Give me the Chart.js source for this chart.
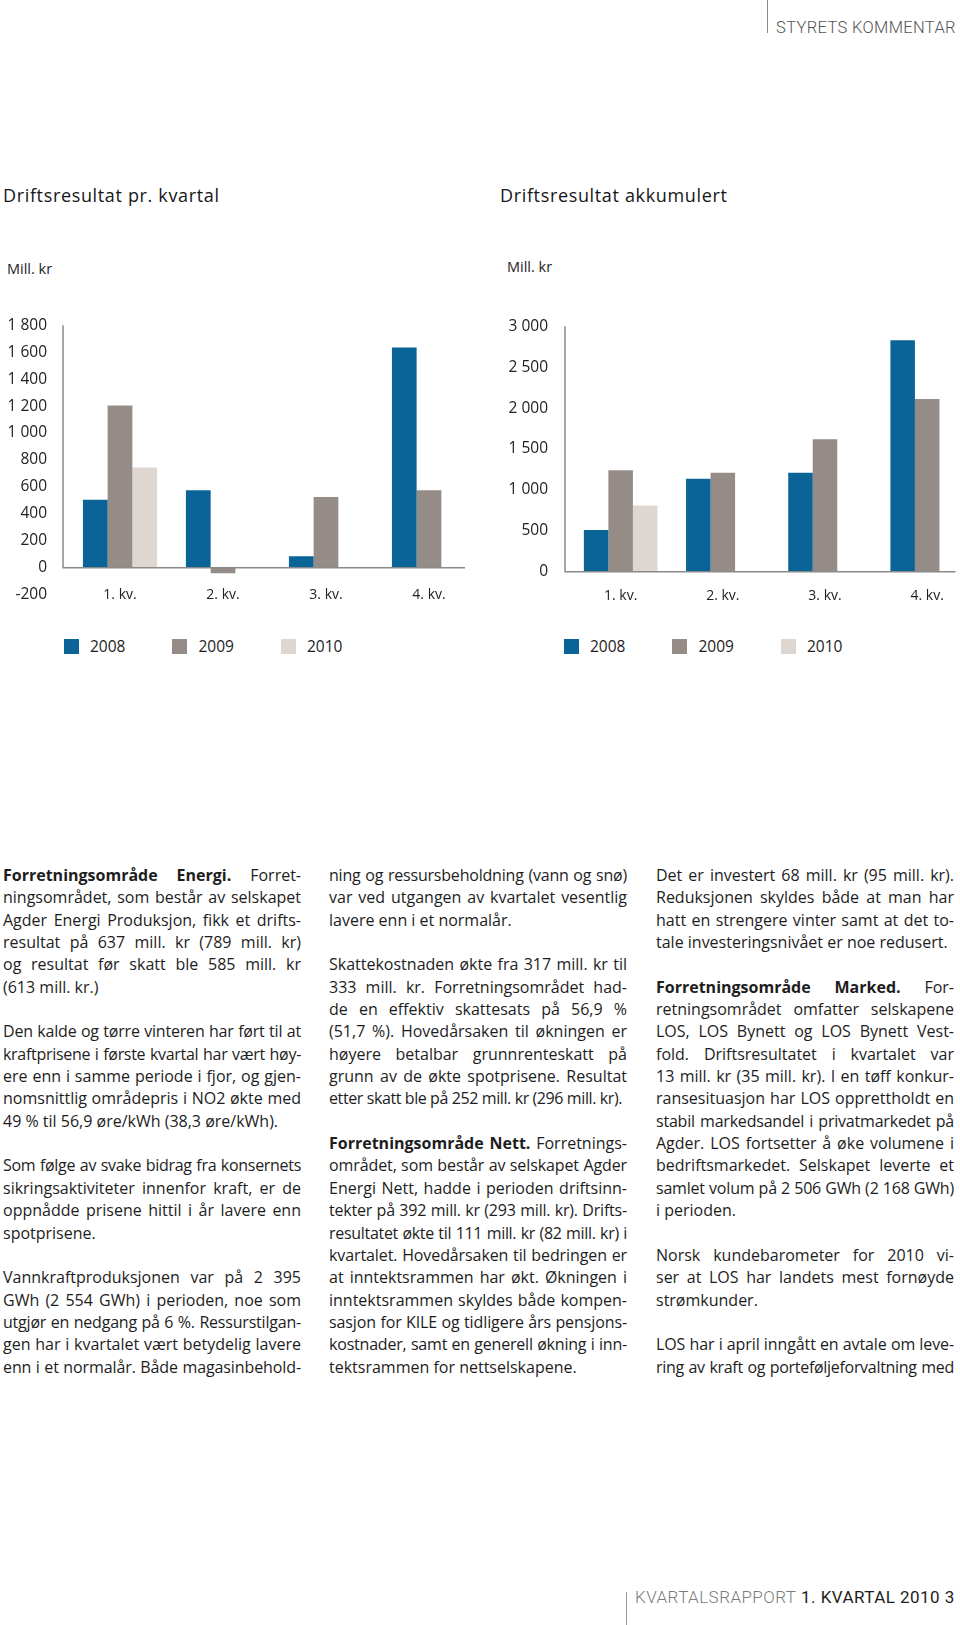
<!DOCTYPE html>
<html lang="no">
<head>
<meta charset="utf-8">
<title>Driftsresultat pr. kvartal og akkumulert</title>
<script src="https://cdn.jsdelivr.net/npm/chart.js@4/dist/chart.umd.min.js"></script>
<style>
  html, body { margin: 0; padding: 0; }
  body {
    width: 960px; height: 1625px; position: relative; overflow: hidden;
    background: #fff; color: #1d1d1d; font-family: "Open Sans", Roboto, sans-serif;
  }
  .abs { position: absolute; white-space: nowrap; }
  .pagehead { left: 767px; top: 0; height: 33px; border-left: 1.5px solid #8a8a8a; }
  .pagehead span { position: absolute; left: 8px; top: 18px; font-family: Roboto, sans-serif; font-size: 16.5px; font-weight: 300; color: #555; letter-spacing: 0.35px; }
  .title { font-size: 18px; line-height: 22px; letter-spacing: 0.65px; color: #161616; }
  .unit { font-size: 14.5px; line-height: 18px; color: #1d1d1d; }
  .chartbox { position: absolute; top: 300px; width: 480px; height: 320px; }
  .legend { position: absolute; top: 637px; display: flex; font-size: 15.5px; line-height: 18px; }
  .legend .item { display: flex; align-items: center; margin-right: 47px; }
  .legend .sw { width: 15px; height: 15px; margin-right: 11px; }
  .col { position: absolute; top: 864px; width: 298px; font-size: 16px; line-height: 22.35px; }
  .col .l { text-align: justify; text-align-last: justify; height: 22.35px; }
  .col .e { text-align-last: left; }
  .col .gap { height: 22.35px; }
  .col b { font-weight: 700; }
  .foot { left: 626px; top: 1592px; height: 40px; border-left: 1.5px solid #9a9a9a; }
  .foot span { position: absolute; left: 8px; top: -5px; font-family: Roboto, sans-serif; font-size: 17px; letter-spacing: 0.45px; }
</style>
</head>
<body>

<div class="abs pagehead"><span>STYRETS KOMMENTAR</span></div>

<div class="abs title" style="left:3px; top:184px;">Driftsresultat pr. kvartal</div>
<div class="abs title" style="left:500px; top:184px;">Driftsresultat akkumulert</div>
<div class="abs unit" style="left:7px; top:260px;">Mill. kr</div>
<div class="abs unit" style="left:507px; top:258px;">Mill. kr</div>

<div class="chartbox" style="left:0;"><canvas id="quarterChart" width="480" height="320"></canvas></div>
<div class="chartbox" style="left:480px;"><canvas id="accumChart" width="480" height="320"></canvas></div>
<div class="legend" id="legendQuarter" style="left:64px;"></div>
<div class="legend" id="legendAccum" style="left:564px;"></div>

<div class="col" style="left:3px;">
  <div class="l"><b>Forretningsområde Energi.</b> Forret-</div>
  <div class="l">ningsområdet, som består av selskapet</div>
  <div class="l">Agder Energi Produksjon, fikk et drifts-</div>
  <div class="l">resultat på 637 mill. kr (789 mill. kr)</div>
  <div class="l">og resultat før skatt ble 585 mill. kr</div>
  <div class="l e">(613 mill. kr.)</div>
  <div class="gap"></div>
  <div class="l">Den kalde og tørre vinteren har ført til at</div>
  <div class="l">kraftprisene i første kvartal har vært høy-</div>
  <div class="l">ere enn i samme periode i fjor, og gjen-</div>
  <div class="l">nomsnittlig områdepris i NO2 økte med</div>
  <div class="l e">49 % til 56,9 øre/kWh (38,3 øre/kWh).</div>
  <div class="gap"></div>
  <div class="l">Som følge av svake bidrag fra konsernets</div>
  <div class="l">sikringsaktiviteter innenfor kraft, er de</div>
  <div class="l">oppnådde prisene hittil i år lavere enn</div>
  <div class="l e">spotprisene.</div>
  <div class="gap"></div>
  <div class="l">Vannkraftproduksjonen var på 2 395</div>
  <div class="l">GWh (2 554 GWh) i perioden, noe som</div>
  <div class="l">utgjør en nedgang på 6 %. Ressurstilgan-</div>
  <div class="l">gen har i kvartalet vært betydelig lavere</div>
  <div class="l">enn i et normalår. Både magasinbehold-</div>
</div>

<div class="col" style="left:329px;">
  <div class="l">ning og ressursbeholdning (vann og snø)</div>
  <div class="l">var ved utgangen av kvartalet vesentlig</div>
  <div class="l e">lavere enn i et normalår.</div>
  <div class="gap"></div>
  <div class="l">Skattekostnaden økte fra 317 mill. kr til</div>
  <div class="l">333 mill. kr. Forretningsområdet had-</div>
  <div class="l">de en effektiv skattesats på 56,9 %</div>
  <div class="l">(51,7 %). Hovedårsaken til økningen er</div>
  <div class="l">høyere betalbar grunnrenteskatt på</div>
  <div class="l">grunn av de økte spotprisene. Resultat</div>
  <div class="l e">etter skatt ble på 252 mill. kr (296 mill. kr).</div>
  <div class="gap"></div>
  <div class="l"><b>Forretningsområde Nett.</b> Forretnings-</div>
  <div class="l">området, som består av selskapet Agder</div>
  <div class="l">Energi Nett, hadde i perioden driftsinn-</div>
  <div class="l">tekter på 392 mill. kr (293 mill. kr). Drifts-</div>
  <div class="l">resultatet økte til 111 mill. kr (82 mill. kr) i</div>
  <div class="l">kvartalet. Hovedårsaken til bedringen er</div>
  <div class="l">at inntektsrammen har økt. Økningen i</div>
  <div class="l">inntektsrammen skyldes både kompen-</div>
  <div class="l">sasjon for KILE og tidligere års pensjons-</div>
  <div class="l">kostnader, samt en generell økning i inn-</div>
  <div class="l e">tektsrammen for nettselskapene.</div>
</div>

<div class="col" style="left:656px;">
  <div class="l">Det er investert 68 mill. kr (95 mill. kr).</div>
  <div class="l">Reduksjonen skyldes både at man har</div>
  <div class="l">hatt en strengere vinter samt at det to-</div>
  <div class="l e">tale investeringsnivået er noe redusert.</div>
  <div class="gap"></div>
  <div class="l"><b>Forretningsområde Marked.</b> For-</div>
  <div class="l">retningsområdet omfatter selskapene</div>
  <div class="l">LOS, LOS Bynett og LOS Bynett Vest-</div>
  <div class="l">fold. Driftsresultatet i kvartalet var</div>
  <div class="l">13 mill. kr (35 mill. kr). I en tøff konkur-</div>
  <div class="l">ransesituasjon har LOS opprettholdt en</div>
  <div class="l">stabil markedsandel i privatmarkedet på</div>
  <div class="l">Agder. LOS fortsetter å øke volumene i</div>
  <div class="l">bedriftsmarkedet. Selskapet leverte et</div>
  <div class="l">samlet volum på 2 506 GWh (2 168 GWh)</div>
  <div class="l e">i perioden.</div>
  <div class="gap"></div>
  <div class="l">Norsk kundebarometer for 2010 vi-</div>
  <div class="l">ser at LOS har landets mest fornøyde</div>
  <div class="l e">strømkunder.</div>
  <div class="gap"></div>
  <div class="l">LOS har i april inngått en avtale om leve-</div>
  <div class="l">ring av kraft og porteføljeforvaltning med</div>
</div>

<div class="abs foot"><span><span style="position:static; color:#7a7a7a; font-weight:300;">KVARTALSRAPPORT</span> 1. KVARTAL 2010 3</span></div>

<script>
// chart data (Mill. kr)
const quarters = ['1. kv.', '2. kv.', '3. kv.', '4. kv.'];
const years = ['2008', '2009', '2010'];
const yearColors = ['#0b6497', '#958b87', '#ddd6d1'];

const quarterly2008 = [505, 575, 85, 1635];
const quarterly2009 = [1205, -40, 525, 575];
const quarterly2010 = [745, null, null, null];

const accum2008 = [510, 1135, 1210, 2830];
const accum2009 = [1240, 1210, 1620, 2110];
const accum2010 = [810, null, null, null];

const quarterlyTicks = [-200, 0, 200, 400, 600, 800, 1000, 1200, 1400, 1600, 1800];
const accumTicks = [0, 500, 1000, 1500, 2000, 2500, 3000];

Chart.defaults.font.family = "'Open Sans', Roboto, sans-serif";
Chart.defaults.color = '#1d1d1d';

// thousands with a space, the Norwegian way
function fmt(v) {
    return String(v).replace(/\B(?=(\d{3})+(?!\d))/g, ' ');
}

// y axis line from top down to zero, and the zero line across
const axisLines = {
    id: 'axisLines',
    afterDatasetsDraw(chart) {
        const { ctx, chartArea, scales } = chart;
        const y0 = scales.y.getPixelForValue(0);
        const yTop = scales.y.getPixelForValue(scales.y.max);
        ctx.save();
        ctx.strokeStyle = '#8a8a8a';
        ctx.lineWidth = 1.5;
        ctx.beginPath();
        ctx.moveTo(chartArea.left, yTop);
        ctx.lineTo(chartArea.left, y0);
        ctx.lineTo(chartArea.right, y0);
        ctx.stroke();
        ctx.restore();
    }
};

function createGroupedBars(canvasId, series, ticks, opts) {
    return new Chart(document.getElementById(canvasId), {
        type: 'bar',
        data: {
            labels: quarters.map((q, i) => i + 1),
            datasets: series.map((data, i) => ({
                label: years[i],
                data: data,
                backgroundColor: yearColors[i],
                borderWidth: 0,
                categoryPercentage: 0.72,
                barPercentage: 1
            }))
        },
        options: {
            responsive: false,
            animation: false,
            layout: { padding: opts.padding },
            scales: {
                x: {
                    type: 'linear',
                    position: { y: 0 },
                    offset: false,
                    bounds: 'data',
                    min: opts.xMin,
                    max: opts.xMax,
                    afterBuildTicks: s => { s.ticks = quarters.map((q, i) => ({ value: i + 1 })); },
                    grid: { display: false, drawTicks: false },
                    border: { display: false },
                    ticks: {
                        autoSkip: false, maxRotation: 0, padding: opts.xPad,
                        font: { size: 14 }, color: '#222',
                        callback: v => quarters[v - 1]
                    }
                },
                y: {
                    min: ticks[0],
                    max: ticks[ticks.length - 1],
                    afterBuildTicks: s => { s.ticks = ticks.map(v => ({ value: v })); },
                    afterFit: s => { s.width = opts.yWidth; },
                    grid: { display: false, drawTicks: false },
                    border: { display: false },
                    ticks: {
                        padding: opts.tickPad,
                        font: { size: 15.5 }, color: '#222',
                        callback: v => fmt(v)
                    }
                }
            },
            plugins: {
                legend: { display: false },
                tooltip: { enabled: false }
            }
        },
        plugins: [axisLines]
    });
}

createGroupedBars('quarterChart', [quarterly2008, quarterly2009, quarterly2010], quarterlyTicks, {
    padding: { top: 24, bottom: 21, left: 0, right: 15 },
    yWidth: 63, tickPad: 16, xPad: 19, xMin: 0.4466, xMax: 4.3495
});

createGroupedBars('accumChart', [accum2008, accum2009, accum2010], accumTicks, {
    padding: { top: 21.5, bottom: 48.3, left: 0, right: 2 },
    yWidth: 85, tickPad: 17, xPad: 16, xMin: 0.4554, xMax: 4.2772
});

// html legends, one per chart
['legendQuarter', 'legendAccum'].forEach(id => {
    const box = document.getElementById(id);
    years.forEach((y, i) => {
        const item = document.createElement('div');
        item.className = 'item';
        item.innerHTML = '<span class="sw" style="background:' + yearColors[i] + '"></span>' + y;
        box.appendChild(item);
    });
});

// squeeze lines that are a touch too long for the column
// (measured left-aligned on an inline copy, so sub-pixel overflow is caught too)
document.querySelectorAll('.col .l').forEach(el => {
    const probe = document.createElement('span');
    probe.style.whiteSpace = 'nowrap';
    probe.innerHTML = el.innerHTML;
    el.innerHTML = '';
    el.appendChild(probe);
    el.style.textAlign = 'left';
    el.style.textAlignLast = 'left';
    const room = el.clientWidth - 1;
    let ls = 0;
    while (probe.getBoundingClientRect().width > room && ls > -2) {
        ls -= 0.1;
        el.style.letterSpacing = ls.toFixed(1) + 'px';
    }
    el.style.textAlign = '';
    el.style.textAlignLast = '';
    el.innerHTML = probe.innerHTML;
});
</script>
</body>
</html>
